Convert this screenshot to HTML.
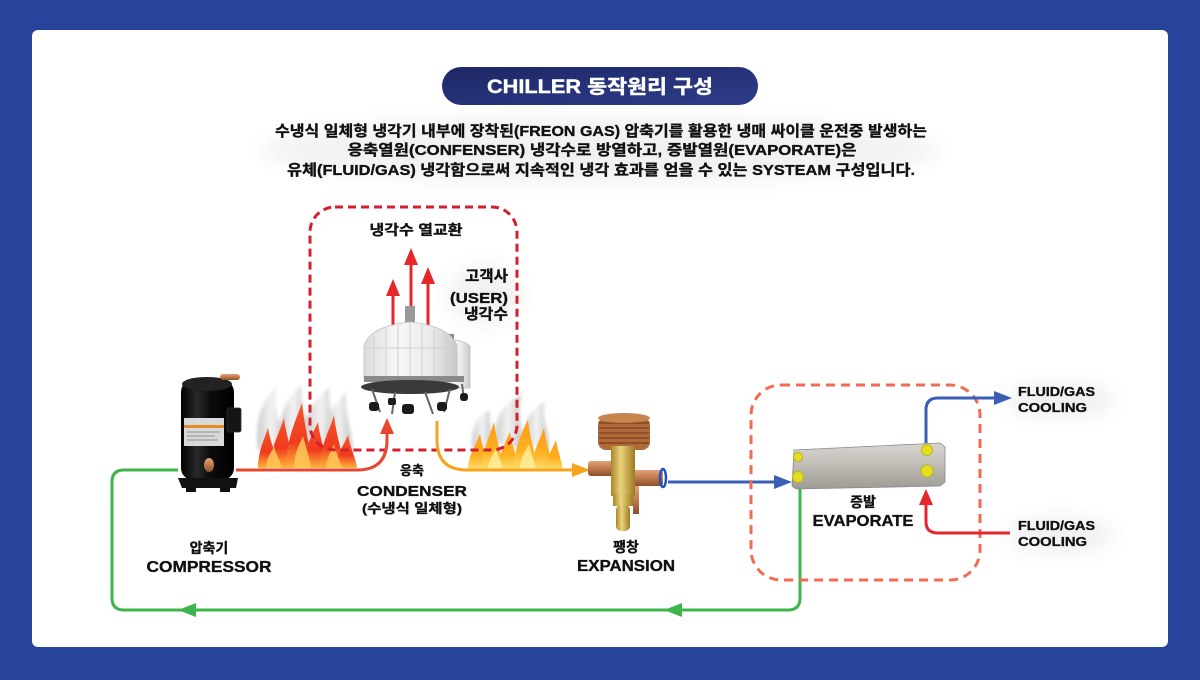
<!DOCTYPE html>
<html>
<head>
<meta charset="utf-8">
<style>
html,body{margin:0;padding:0;}
body{width:1200px;height:680px;background:#27449a;overflow:hidden;position:relative;}
svg{position:absolute;left:0;top:0;}
text{font-family:"Liberation Sans","Noto Sans CJK KR",sans-serif;font-weight:700;fill:#111;}
.hv{stroke:#111;stroke-width:0.35px;}
</style>
</head>
<body>
<svg width="1200" height="680" viewBox="0 0 1200 680" xmlns="http://www.w3.org/2000/svg">
<defs>
  <linearGradient id="pill" x1="0" y1="0" x2="1" y2="1">
    <stop offset="0" stop-color="#1d2765"/>
    <stop offset="1" stop-color="#2e3d8c"/>
  </linearGradient>
  <filter id="blur8" x="-50%" y="-50%" width="200%" height="200%"><feGaussianBlur stdDeviation="10"/></filter>
  <filter id="blur2" x="-50%" y="-50%" width="200%" height="200%"><feGaussianBlur stdDeviation="1.5"/></filter>
  <linearGradient id="body" x1="0" y1="0" x2="1" y2="0">
    <stop offset="0" stop-color="#000"/>
    <stop offset="0.3" stop-color="#2a2a2a"/>
    <stop offset="0.55" stop-color="#0c0c0c"/>
    <stop offset="1" stop-color="#000"/>
  </linearGradient>
  <linearGradient id="tower" x1="0" y1="0" x2="1" y2="0">
    <stop offset="0" stop-color="#dcdcdc"/>
    <stop offset="0.35" stop-color="#f7f7f7"/>
    <stop offset="0.7" stop-color="#ececec"/>
    <stop offset="1" stop-color="#c9c9c9"/>
  </linearGradient>
  <linearGradient id="plate" x1="0" y1="0" x2="0" y2="1">
    <stop offset="0" stop-color="#d8d6d2"/>
    <stop offset="0.45" stop-color="#c2beb8"/>
    <stop offset="1" stop-color="#9e9a94"/>
  </linearGradient>
  <linearGradient id="brass" x1="0" y1="0" x2="1" y2="0">
    <stop offset="0" stop-color="#a8862a"/>
    <stop offset="0.4" stop-color="#ecd47a"/>
    <stop offset="1" stop-color="#9c7a22"/>
  </linearGradient>
  <linearGradient id="copper" x1="0" y1="0" x2="0" y2="1">
    <stop offset="0" stop-color="#e2a27a"/>
    <stop offset="0.5" stop-color="#c07a4c"/>
    <stop offset="1" stop-color="#8c4e2a"/>
  </linearGradient>
  <linearGradient id="flameR" x1="0" y1="0" x2="0" y2="1">
    <stop offset="0" stop-color="#f5562a"/>
    <stop offset="0.6" stop-color="#f03a1e"/>
    <stop offset="1" stop-color="#ffb33a"/>
  </linearGradient>
  <linearGradient id="flameO" x1="0" y1="0" x2="0" y2="1">
    <stop offset="0" stop-color="#ff9a1a"/>
    <stop offset="0.6" stop-color="#ffb020"/>
    <stop offset="1" stop-color="#ffe070"/>
  </linearGradient>
  <linearGradient id="smoke" x1="0" y1="0" x2="1" y2="0">
    <stop offset="0" stop-color="#c8c8c8"/>
    <stop offset="0.5" stop-color="#f2f2f2"/>
    <stop offset="1" stop-color="#bdbdbd"/>
  </linearGradient>
</defs>

<!-- card -->
<rect x="32" y="30" width="1136" height="617" rx="6" fill="#fff"/>

<!-- soft glows -->
<ellipse cx="600" cy="150" rx="340" ry="34" fill="#000" opacity="0.05" filter="url(#blur8)"/>
<ellipse cx="1060" cy="400" rx="55" ry="18" fill="#000" opacity="0.06" filter="url(#blur8)"/>
<ellipse cx="1060" cy="535" rx="55" ry="18" fill="#000" opacity="0.06" filter="url(#blur8)"/>
<ellipse cx="485" cy="295" rx="38" ry="30" fill="#000" opacity="0.05" filter="url(#blur8)"/>

<!-- title pill -->
<rect x="442" y="67" width="316" height="38" rx="19" fill="url(#pill)"/>
<text x="600" y="93" text-anchor="middle" font-size="19" style="fill:#fff;stroke:#fff;stroke-width:0.4px" textLength="226" lengthAdjust="spacingAndGlyphs">CHILLER 동작원리 구성</text>

<!-- description -->
<text class="hv" x="601" y="136" text-anchor="middle" font-size="15" textLength="652" lengthAdjust="spacingAndGlyphs">수냉식 일체형 냉각기 내부에 장착된(FREON GAS) 압축기를 활용한 냉매 싸이클 운전중 발생하는</text>
<text class="hv" x="602" y="155" text-anchor="middle" font-size="15" textLength="509" lengthAdjust="spacingAndGlyphs">응축열원(CONFENSER) 냉각수로 방열하고, 증발열원(EVAPORATE)은</text>
<text class="hv" x="601" y="175" text-anchor="middle" font-size="15" textLength="628" lengthAdjust="spacingAndGlyphs">유체(FLUID/GAS) 냉각함으로써 지속적인 냉각 효과를 얻을 수 있는 SYSTEAM 구성입니다.</text>

<!-- green return loop -->
<path d="M178 470 H124 Q112 470 112 482 V598 Q112 610 124 610 H788 Q800 610 800 598 V488" fill="none" stroke="#3cb54a" stroke-width="3"/>
<polygon points="178,610 196,603 196,617" fill="#3cb54a"/>
<polygon points="664,610 682,603 682,617" fill="#3cb54a"/>

<!-- smoke left -->
<g fill="url(#smoke)" opacity="0.9" filter="url(#blur2)">
  <path d="M258 450 C254 420 262 400 276 388 C272 410 282 425 286 445 Z"/>
  <path d="M280 445 C276 412 290 395 302 385 C298 405 312 422 306 448 Z"/>
  <path d="M306 445 C300 412 318 396 330 388 C326 410 340 426 336 450 Z"/>
  <path d="M326 450 C322 418 336 402 346 392 C344 415 354 432 352 455 Z"/>
</g>
<!-- flames left -->
<g fill="url(#flameR)">
  <path d="M258 468 C258 452 264 440 268 428 C270 442 276 452 278 468 Z"/>
  <path d="M270 468 C270 448 280 432 284 418 C286 436 292 450 294 468 Z"/>
  <path d="M286 468 C286 440 296 420 302 403 C304 425 310 445 312 468 Z"/>
  <path d="M304 468 C304 448 312 435 318 422 C320 440 326 452 328 468 Z"/>
  <path d="M320 468 C320 445 330 430 334 415 C336 435 342 450 344 468 Z"/>
  <path d="M336 468 C336 455 344 445 348 435 C350 448 356 458 357 468 Z"/>
</g>
<g fill="#ffc857" opacity="0.85">
  <path d="M266 468 C266 458 272 452 274 446 C276 455 280 460 282 468 Z"/>
  <path d="M294 468 C294 452 300 444 303 436 C306 448 310 458 311 468 Z"/>
  <path d="M326 468 C326 458 332 450 334 444 C336 454 340 460 342 468 Z"/>
</g>

<!-- smoke right -->
<g fill="url(#smoke)" opacity="0.9" filter="url(#blur2)">
  <path d="M472 448 C470 428 478 415 490 410 C488 425 495 435 492 452 Z"/>
  <path d="M495 442 C492 420 505 400 522 395 C515 415 525 430 522 450 Z"/>
  <path d="M525 442 C522 420 532 408 545 402 C540 420 552 432 548 452 Z"/>
</g>
<!-- flames right -->
<g fill="url(#flameO)">
  <path d="M468 470 C468 455 476 445 480 434 C482 448 488 458 490 470 Z"/>
  <path d="M482 470 C482 450 490 436 494 422 C496 440 502 455 504 470 Z"/>
  <path d="M498 470 C498 455 506 442 510 432 C512 448 518 458 520 470 Z"/>
  <path d="M514 470 C514 448 522 432 528 420 C530 440 536 455 538 470 Z"/>
  <path d="M532 470 C532 452 540 440 544 428 C546 445 552 458 554 470 Z"/>
  <path d="M546 470 C546 458 552 450 556 440 C558 452 562 462 563 470 Z"/>
</g>
<g fill="#fff0a0" opacity="0.8">
  <path d="M488 470 C488 460 494 454 496 448 C498 456 502 462 503 470 Z"/>
  <path d="M520 470 C520 458 526 450 529 444 C531 455 535 462 536 470 Z"/>
</g>

<!-- condenser dashed box -->
<rect x="310" y="207" width="207" height="243" rx="25" fill="none" stroke="#d41f2c" stroke-width="3" stroke-dasharray="8 5"/>

<!-- red line compressor to tower -->
<path d="M236 470 H357 Q387 470 387 440 V432" fill="none" stroke="#e8462e" stroke-width="3"/>
<polygon points="387,418 380,434 394,434" fill="#e8462e"/>

<!-- orange line tower to expansion -->
<path d="M437 421 V440 Q437 470 467 470 H574" fill="none" stroke="#f7a31c" stroke-width="3"/>
<polygon points="590,470 572,463 572,477" fill="#f7a31c"/>

<!-- red up arrows -->
<g fill="#e5262b">
  <rect x="391.5" y="292" width="3" height="40"/>
  <polygon points="393,279 386,296 400,296"/>
  <rect x="409.5" y="262" width="3" height="60"/>
  <polygon points="411,248 404,265 418,265"/>
  <rect x="426.5" y="282" width="3" height="45"/>
  <polygon points="428,267 421,284 435,284"/>
</g>

<!-- cooling tower -->
<g>
  <path d="M440 346 Q455 334 470 346 V388 H440 Z" fill="url(#tower)" stroke="#bbb" stroke-width="0.8"/>
  <rect x="448" y="334" width="6" height="8" fill="#888"/>
  <rect x="405" y="306" width="10" height="16" fill="#9a9a9a"/>
  <path d="M364 346 Q370 326 410 322 Q450 326 457 346 V380 H364 Z" fill="url(#tower)" stroke="#bdbdbd" stroke-width="0.8"/>
  <g stroke="#cfcfcf" stroke-width="1">
    <line x1="374" y1="336" x2="374" y2="380"/>
    <line x1="386" y1="329" x2="386" y2="380"/>
    <line x1="398" y1="325" x2="398" y2="380"/>
    <line x1="410" y1="323" x2="410" y2="380"/>
    <line x1="422" y1="325" x2="422" y2="380"/>
    <line x1="434" y1="329" x2="434" y2="380"/>
    <line x1="446" y1="336" x2="446" y2="380"/>
    <line x1="364" y1="348" x2="457" y2="348"/>
  </g>
  <rect x="364" y="376" width="100" height="6" fill="#8a8a8a"/>
  <ellipse cx="410" cy="387" rx="49" ry="7" fill="#3a3a3a"/>
  <g stroke="#666" stroke-width="2" fill="none">
    <line x1="372" y1="389" x2="380" y2="412"/>
    <line x1="395" y1="392" x2="392" y2="414"/>
    <line x1="425" y1="392" x2="433" y2="414"/>
    <line x1="450" y1="389" x2="444" y2="412"/>
    <line x1="462" y1="384" x2="464" y2="400"/>
  </g>
  <g fill="#1c1c1c">
    <rect x="369" y="402" width="10" height="9" rx="3"/>
    <rect x="402" y="404" width="12" height="10" rx="3"/>
    <rect x="437" y="402" width="10" height="9" rx="3"/>
    <rect x="460" y="393" width="8" height="8" rx="3"/>
    <rect x="388" y="398" width="8" height="7" rx="2"/>
  </g>
</g>

<!-- compressor -->
<g>
  <rect x="181" y="380" width="53" height="100" rx="12" fill="url(#body)"/>
  <ellipse cx="207" cy="384" rx="25" ry="7" fill="#222"/>
  <rect x="220" y="374" width="20" height="6" rx="3" fill="url(#copper)"/>
  <rect x="227" y="408" width="14" height="24" rx="2" fill="#151515" stroke="#333" stroke-width="0.8"/>
  <rect x="184" y="418" width="40" height="28" fill="#d9d9d9"/>
  <rect x="184" y="425" width="40" height="3" fill="#e48a2a"/>
  <g stroke="#777" stroke-width="0.8">
    <line x1="187" y1="432" x2="220" y2="432"/>
    <line x1="187" y1="436" x2="215" y2="436"/>
    <line x1="187" y1="440" x2="218" y2="440"/>
  </g>
  <ellipse cx="209" cy="465" rx="5" ry="7" fill="url(#copper)"/>
  <path d="M178 478 H238 L236 488 H182 Z" fill="#111"/>
  <rect x="186" y="486" width="10" height="6" fill="#111"/>
  <rect x="220" y="486" width="10" height="6" fill="#111"/>
</g>

<!-- expansion valve -->
<g>
  <rect x="633" y="486" width="6" height="28" fill="url(#copper)"/>
  <rect x="588" y="461" width="26" height="15" rx="3" fill="url(#copper)"/>
  <rect x="633" y="470" width="30" height="16" rx="3" fill="url(#copper)"/>
  <ellipse cx="663" cy="478" rx="3" ry="9" fill="none" stroke="#1f4fc0" stroke-width="2.5"/>
  <rect x="598" y="417" width="52" height="33" rx="8" fill="#b06a3a"/>
  <g stroke="#7a3e1c" stroke-width="1.2">
    <line x1="599" y1="423" x2="649" y2="423"/>
    <line x1="599" y1="428" x2="649" y2="428"/>
    <line x1="599" y1="433" x2="649" y2="433"/>
    <line x1="599" y1="438" x2="649" y2="438"/>
    <line x1="599" y1="443" x2="649" y2="443"/>
  </g>
  <ellipse cx="624" cy="418" rx="26" ry="5" fill="#c8844e"/>
  <rect x="611" y="446" width="24" height="50" fill="url(#brass)"/>
  <rect x="613" y="494" width="20" height="12" fill="url(#brass)"/>
  <rect x="616" y="505" width="14" height="26" rx="5" fill="url(#brass)"/>
</g>

<!-- blue line to evaporator -->
<path d="M668 482 H776" fill="none" stroke="#3a5fb5" stroke-width="3"/>
<polygon points="792,482 774,475 774,489" fill="#3a5fb5"/>

<!-- evaporator dashed box -->
<rect x="751" y="385" width="229" height="195" rx="30" fill="none" stroke="#f26a50" stroke-width="3" stroke-dasharray="9 6"/>

<!-- blue out -->
<path d="M926 443 V410 Q926 398 938 398 H996" fill="none" stroke="#3a5fb5" stroke-width="3"/>
<polygon points="1012,398 994,391 994,405" fill="#3a5fb5"/>
<!-- red in -->
<path d="M926 503 V522 Q926 533 938 533 H1010" fill="none" stroke="#e5262b" stroke-width="3"/>
<polygon points="926,489 919,505 933,505" fill="#e5262b"/>

<!-- evaporator plate -->
<polygon points="794,450 940,443 945,447 945,482 940,486 796,489 792,486" fill="url(#plate)" stroke="#8a8a8a" stroke-width="0.8"/>
<g fill="#e3df1e" stroke="#bdb514" stroke-width="1">
  <circle cx="798" cy="457" r="4.5"/>
  <circle cx="798" cy="477" r="5.5"/>
  <circle cx="927" cy="450" r="5.5"/>
  <circle cx="927" cy="471" r="6"/>
</g>

<!-- labels -->
<text class="hv" x="416" y="235" text-anchor="middle" font-size="14" textLength="93" lengthAdjust="spacingAndGlyphs">냉각수 열교환</text>
<text class="hv" x="508" y="281" text-anchor="end" font-size="15" textLength="43" lengthAdjust="spacingAndGlyphs">고객사</text>
<text class="hv" x="508" y="303" text-anchor="end" font-size="15" textLength="58" lengthAdjust="spacingAndGlyphs">(USER)</text>
<text class="hv" x="508" y="319" text-anchor="end" font-size="15" textLength="44" lengthAdjust="spacingAndGlyphs">냉각수</text>

<text class="hv" x="412" y="475" text-anchor="middle" font-size="13">응축</text>
<text class="hv" x="412" y="496" text-anchor="middle" font-size="15" textLength="110" lengthAdjust="spacingAndGlyphs">CONDENSER</text>
<text class="hv" x="412" y="513" text-anchor="middle" font-size="13" textLength="100" lengthAdjust="spacingAndGlyphs">(수냉식 일체형)</text>

<text class="hv" x="209" y="553" text-anchor="middle" font-size="14">압축기</text>
<text class="hv" x="209" y="572" text-anchor="middle" font-size="16" textLength="125" lengthAdjust="spacingAndGlyphs">COMPRESSOR</text>

<text class="hv" x="626" y="552" text-anchor="middle" font-size="14">팽창</text>
<text class="hv" x="626" y="571" text-anchor="middle" font-size="16" textLength="98" lengthAdjust="spacingAndGlyphs">EXPANSION</text>

<text class="hv" x="863" y="507" text-anchor="middle" font-size="14">증발</text>
<text class="hv" x="863" y="526" text-anchor="middle" font-size="16" textLength="101" lengthAdjust="spacingAndGlyphs">EVAPORATE</text>

<text class="hv" x="1018" y="396" font-size="13" textLength="77" lengthAdjust="spacingAndGlyphs">FLUID/GAS</text>
<text class="hv" x="1018" y="412" font-size="13" textLength="69" lengthAdjust="spacingAndGlyphs">COOLING</text>
<text class="hv" x="1018" y="530" font-size="13" textLength="77" lengthAdjust="spacingAndGlyphs">FLUID/GAS</text>
<text class="hv" x="1018" y="546" font-size="13" textLength="69" lengthAdjust="spacingAndGlyphs">COOLING</text>
</svg>
</body>
</html>
